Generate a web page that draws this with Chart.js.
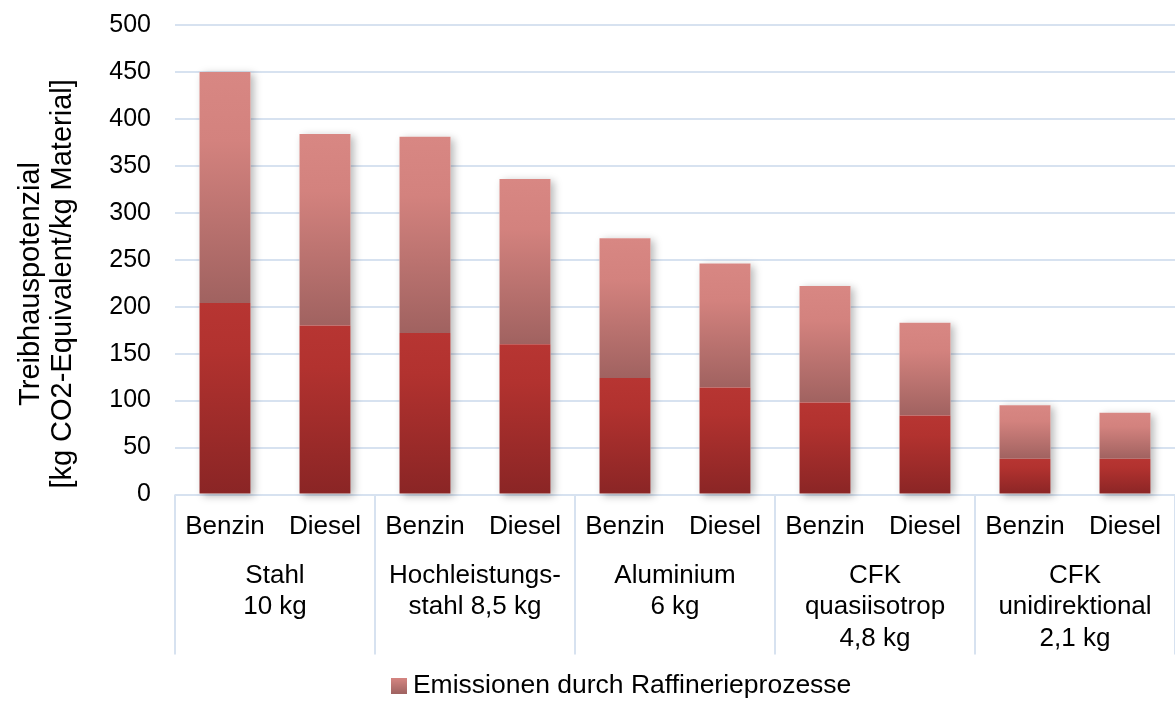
<!DOCTYPE html>
<html>
<head>
<meta charset="utf-8">
<title>Treibhauspotenzial</title>
<script src="https://cdn.jsdelivr.net/npm/chart.js@4.4.1/dist/chart.umd.min.js"></script>
<style>
  html, body { margin: 0; padding: 0; overflow: hidden; background: #fff; }
  canvas { display: block; }
</style>
</head>
<body>
<canvas id="chart" width="1249" height="709"></canvas>
<script>
// Fuel per bar (inner axis) and material group (outer axis)
const fuels = ['Benzin', 'Diesel', 'Benzin', 'Diesel', 'Benzin', 'Diesel', 'Benzin', 'Diesel', 'Benzin', 'Diesel'];
const materials = [
  ['Stahl', '10 kg'],
  ['Hochleistungs-', 'stahl 8,5 kg'],
  ['Aluminium', '6 kg'],
  ['CFK', 'quasiisotrop', '4,8 kg'],
  ['CFK', 'unidirektional', '2,1 kg']
];

// kg CO2-Equivalent / kg Material
const materialEmissions = [204, 180, 172, 160, 124, 114, 98, 84, 38, 38];
const refineryEmissions = [246, 204, 209, 176, 149, 132, 124, 99, 57, 49];

const yMin = 0;
const yMax = 500;
const yStep = 50;

const legendLabel = 'Emissionen durch Raffinerieprozesse';
const yTitle = ['Treibhauspotenzial', '[kg CO2-Equivalent/kg Material]'];

const FONT = "'Liberation Sans', Arial, sans-serif";
const GRID = '#d7e2f0';

// Vertical gradient spanning one stacked segment of one bar
function segmentGradient(context, lowerValues, values, stops) {
  const chart = context.chart;
  if (!chart.chartArea || context.type !== 'data') return stops[0][1];
  const i = context.dataIndex;
  const y = chart.scales.y;
  const base = lowerValues ? lowerValues[i] : 0;
  const yBase = y.getPixelForValue(base);
  const yTop = y.getPixelForValue(base + values[i]);
  const g = chart.ctx.createLinearGradient(0, yBase, 0, yTop);
  stops.forEach(([o, c]) => g.addColorStop(o, c));
  return g;
}

const lowerStops = [[0, '#8a2525'], [0.75, '#b2322f'], [1, '#b73532']];
const upperStops = [[0, '#a06260'], [0.7, '#d3827e'], [1, '#d88783']];

// Small gradient swatch for the legend entry
const swatch = document.createElement('canvas');
swatch.width = 16;
swatch.height = 16;
(function () {
  const c = swatch.getContext('2d');
  const g = c.createLinearGradient(0, 0, 0, 16);
  g.addColorStop(0, '#d68682');
  g.addColorStop(1, '#9f6361');
  c.fillStyle = g;
  c.fillRect(0, 0, 16, 16);
})();

// Soft drop shadow behind each whole stacked bar
const barShadow = {
  id: 'barShadow',
  beforeDatasetsDraw(chart) {
    const ctx = chart.ctx;
    const lower = chart.getDatasetMeta(0).data;
    const upper = chart.getDatasetMeta(1).data;
    ctx.save();
    ctx.shadowColor = 'rgba(0,0,0,0.28)';
    ctx.shadowBlur = 8;
    ctx.shadowOffsetX = 3;
    ctx.shadowOffsetY = 2;
    ctx.fillStyle = '#fff';
    lower.forEach((bar, i) => {
      const top = upper[i];
      ctx.fillRect(bar.x - bar.width / 2, top.y, bar.width, bar.base - top.y);
    });
    ctx.restore();
  }
};

// Separators between the material groups, through both label rows
const groupDividers = {
  id: 'groupDividers',
  afterDraw(chart) {
    const ctx = chart.ctx;
    const outer = chart.scales.x2;
    const top = chart.chartArea.bottom;
    const bottom = outer.bottom;
    const step = outer.width / materials.length;
    ctx.save();
    ctx.strokeStyle = GRID;
    ctx.lineWidth = 2;
    for (let g = 0; g <= materials.length; g++) {
      const px = Math.round(outer.left + g * step);
      ctx.beginPath();
      ctx.moveTo(px, top);
      ctx.lineTo(px, bottom);
      ctx.stroke();
    }
    ctx.restore();
  }
};

new Chart(document.getElementById('chart'), {
  type: 'bar',
  data: {
    labels: fuels,
    datasets: [
      {
        label: 'Material',
        data: materialEmissions,
        backgroundColor: (ctx) => segmentGradient(ctx, null, materialEmissions, lowerStops),
        borderWidth: 0,
        categoryPercentage: 1,
        barPercentage: 0.51
      },
      {
        label: legendLabel,
        data: refineryEmissions,
        backgroundColor: (ctx) => segmentGradient(ctx, materialEmissions, refineryEmissions, upperStops),
        borderWidth: 0,
        categoryPercentage: 1,
        barPercentage: 0.51
      }
    ]
  },
  options: {
    responsive: false,
    animation: false,
    devicePixelRatio: 1,
    layout: { padding: { top: 25, right: 0, left: 0, bottom: 0 } },
    plugins: {
      tooltip: { enabled: false },
      legend: {
        position: 'bottom',
        labels: {
          filter: (item) => item.datasetIndex === 1,
          usePointStyle: true,
          pointStyle: swatch,
          pointStyleWidth: 2,
          boxHeight: 16,
          padding: 18,
          color: '#000',
          font: { family: FONT, size: 26.5 }
        }
      }
    },
    scales: {
      x: {
        stacked: true,
        weight: 0,
        afterFit(scale) { scale.height = 48; },
        grid: { display: false, drawTicks: false },
        border: { display: false },
        ticks: { color: '#000', padding: 17, maxRotation: 0, autoSkip: false, font: { family: FONT, size: 26 } }
      },
      x2: {
        type: 'category',
        labels: materials,
        position: 'bottom',
        weight: 1,
        offset: true,
        afterFit(scale) { scale.height = 112; },
        grid: { display: false, drawTicks: false },
        border: { display: false },
        ticks: { color: '#000', padding: 18, maxRotation: 0, autoSkip: false, font: { family: FONT, size: 26 } }
      },
      y: {
        stacked: true,
        min: yMin,
        max: yMax,
        afterFit(scale) {
          scale.width = 175;
          // only the outer layout padding decides the top of the plot
          scale.paddingTop = 0;
          scale.paddingBottom = 0;
        },
        grid: { color: GRID, lineWidth: 2, drawTicks: false },
        border: { display: false },
        ticks: { stepSize: yStep, color: '#000', padding: 24, font: { family: FONT, size: 25 } },
        title: {
          display: true,
          // trailing spaces nudge the rotated title a little lower along the axis
          text: yTitle.map((line) => line + '      '),
          color: '#000',
          padding: { top: 15, bottom: 0 },
          font: { family: FONT, size: 29, lineHeight: 1.1 }
        }
      },
      // empty strip on the right so the plot ends at the window edge
      yRight: {
        position: 'right',
        afterFit(scale) { scale.width = 74; },
        grid: { display: false, drawTicks: false },
        border: { display: false },
        ticks: { display: false }
      }
    }
  },
  plugins: [barShadow, groupDividers]
});
</script>
</body>
</html>
